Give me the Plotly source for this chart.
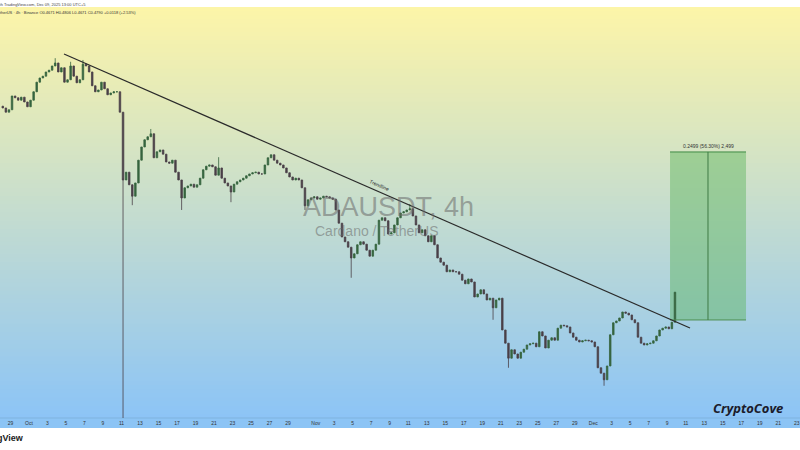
import plotly.graph_objects as go
import pandas as pd

# ---------------- data ----------------
start_time = "2025-09-28 04:00"      # centre of first 8h candle
period_hours = 8
first_open = 0.823
closes = [
    0.820, 0.813, 0.817, 0.840, 0.837, 0.833, 0.838, 0.830, 0.822, 0.833,
    0.847, 0.863, 0.870, 0.873, 0.880, 0.883, 0.890, 0.895, 0.880, 0.887,
    0.863, 0.867, 0.890, 0.873, 0.862, 0.867, 0.893, 0.890, 0.880, 0.857,
    0.847, 0.850, 0.863, 0.852, 0.842, 0.845, 0.847, 0.847, 0.813, 0.700,
    0.713, 0.692, 0.673, 0.695, 0.733, 0.755, 0.767, 0.772, 0.777, 0.737,
    0.747, 0.750, 0.743, 0.730, 0.728, 0.733, 0.713, 0.700, 0.670, 0.687,
    0.690, 0.693, 0.688, 0.692, 0.703, 0.717, 0.723, 0.725, 0.722, 0.708,
    0.720, 0.703, 0.695, 0.690, 0.680, 0.693, 0.697, 0.700, 0.703, 0.707,
    0.710, 0.712, 0.713, 0.710, 0.710, 0.725, 0.737, 0.742, 0.733, 0.728,
    0.725, 0.720, 0.712, 0.705, 0.700, 0.703, 0.700, 0.687, 0.657, 0.667,
    0.670, 0.672, 0.668, 0.670, 0.673, 0.672, 0.670, 0.668, 0.650, 0.628,
    0.605, 0.597, 0.588, 0.570, 0.577, 0.592, 0.597, 0.593, 0.583, 0.573,
    0.583, 0.593, 0.633, 0.637, 0.632, 0.610, 0.612, 0.625, 0.637, 0.645,
    0.647, 0.650, 0.652, 0.640, 0.625, 0.612, 0.617, 0.607, 0.597, 0.607,
    0.592, 0.570, 0.563, 0.558, 0.547, 0.550, 0.547, 0.547, 0.543, 0.533,
    0.527, 0.535, 0.530, 0.505, 0.510, 0.517, 0.510, 0.500, 0.503, 0.487,
    0.500, 0.503, 0.450, 0.428, 0.403, 0.417, 0.410, 0.403, 0.413, 0.418,
    0.425, 0.427, 0.428, 0.422, 0.447, 0.440, 0.420, 0.433, 0.437, 0.433,
    0.453, 0.458, 0.457, 0.455, 0.445, 0.438, 0.433, 0.430, 0.432, 0.433,
    0.432, 0.430, 0.422, 0.387, 0.378, 0.367, 0.390, 0.442, 0.462, 0.465,
    0.470, 0.480, 0.478, 0.475, 0.467, 0.462, 0.438, 0.428, 0.425, 0.427,
    0.428, 0.432, 0.440, 0.450, 0.453, 0.455, 0.452, 0.463, 0.513,
]
# notable wicks (candle index -> price)
high_idx = [17, 22, 26, 48, 70, 132]
high_val = [0.903, 0.897, 0.900, 0.785, 0.738, 0.660]
low_idx = [39, 42, 58, 74, 98, 113, 159, 164, 195]
low_val = [0.280, 0.658, 0.650, 0.663, 0.650, 0.537, 0.467, 0.387, 0.357]

# trendline drawing
trend_t = ["2025-10-04 18:50", "2025-12-11 11:00"]
trend_p = [0.910, 0.4533]
trend_label = "Trendline"

# long position tool
pos_t = ["2025-12-09 07:10", "2025-12-13 09:40", "2025-12-17 12:20"]
pos_entry = 0.4667
pos_target = 0.7467
pos_label = "0.2499 (56.30%) 2,499"

# axis
x_range = ["2025-09-27 20:46", "2025-12-23 08:24"]
y_range = [0.3033, 0.9833]
tick_dates = ["2025-09-29", "2025-10-01", "2025-10-03", "2025-10-05", "2025-10-07",
              "2025-10-09", "2025-10-11", "2025-10-13", "2025-10-15", "2025-10-17",
              "2025-10-19", "2025-10-21", "2025-10-23", "2025-10-25", "2025-10-27",
              "2025-10-29", "2025-11-01", "2025-11-03", "2025-11-05", "2025-11-07",
              "2025-11-09", "2025-11-11", "2025-11-13", "2025-11-15", "2025-11-17",
              "2025-11-19", "2025-11-21", "2025-11-23", "2025-11-25", "2025-11-27",
              "2025-11-29", "2025-12-01", "2025-12-03", "2025-12-05", "2025-12-07",
              "2025-12-09", "2025-12-11", "2025-12-13", "2025-12-15", "2025-12-17",
              "2025-12-19", "2025-12-21", "2025-12-23"]
tick_text = ["29", "Oct", "3", "5", "7", "9", "11", "13", "15", "17", "19", "21", "23",
             "25", "27", "29", "Nov", "3", "5", "7", "9", "11", "13", "15", "17", "19",
             "21", "23", "25", "27", "29", "Dec", "3", "5", "7", "9", "11", "13", "15",
             "17", "19", "21", "23"]

# ---------------- build OHLC ----------------
times = pd.date_range(start=start_time, periods=len(closes), freq=f"{period_hours}h")
opens = [first_open] + closes[:-1]
highs = [max(o, c) for o, c in zip(opens, closes)]
lows = [min(o, c) for o, c in zip(opens, closes)]
for i, v in zip(high_idx, high_val):
    highs[i] = max(highs[i], v)
for i, v in zip(low_idx, low_val):
    lows[i] = min(lows[i], v)

W, H = 800, 450
M_T, M_B = 10, 32
PH = H - M_T - M_B


def py(pix):  # pixel row -> paper y
    return (H - M_B - pix) / PH


def px(pix):
    return pix / W


fig = go.Figure()
fig.add_trace(go.Candlestick(
    x=times, open=opens, high=highs, low=lows, close=closes,
    increasing=dict(line=dict(color="#36643f", width=0.8), fillcolor="#36643f"),
    decreasing=dict(line=dict(color="#4a4048", width=0.8), fillcolor="#4a4048"),
    whiskerwidth=0, hoverinfo="skip", showlegend=False,
))

shapes = []
# gradient background (yellow -> light blue), nested rects to avoid seams
top_rgb = (253, 245, 168)
bot_rgb = (140, 196, 246)
n = 100
y_top = py(7)
for k in range(n):
    f0 = k / n
    f = (k + 0.5) / n
    r = round(top_rgb[0] + (bot_rgb[0] - top_rgb[0]) * f)
    g = round(top_rgb[1] + (bot_rgb[1] - top_rgb[1]) * f)
    b = round(top_rgb[2] + (bot_rgb[2] - top_rgb[2]) * f)
    shapes.append(dict(type="rect", xref="paper", yref="paper", x0=0, x1=1,
                       y0=0, y1=y_top - y_top * f0,
                       fillcolor=f"rgb({r},{g},{b})", line=dict(width=0), layer="below"))
# time axis band
shapes.append(dict(type="rect", xref="paper", yref="paper", x0=0, x1=1,
                   y0=py(428), y1=py(418), fillcolor="#8cc4f5",
                   line=dict(width=0), layer="below"))
shapes.append(dict(type="line", xref="paper", yref="paper", x0=0, x1=1,
                   y0=py(418), y1=py(418), line=dict(color="#7fb3df", width=1),
                   layer="below"))
# long position box
shapes.append(dict(type="rect", xref="x", yref="y", x0=pos_t[0], x1=pos_t[2],
                   y0=pos_entry, y1=pos_target, fillcolor="rgba(92,180,90,0.45)",
                   line=dict(width=0), layer="below"))
shapes.append(dict(type="line", xref="x", yref="y", x0=pos_t[0], x1=pos_t[2],
                   y0=pos_target, y1=pos_target, line=dict(color="#3f8a45", width=1)))
shapes.append(dict(type="line", xref="x", yref="y", x0=pos_t[0], x1=pos_t[2],
                   y0=pos_entry, y1=pos_entry, line=dict(color="#4f8f55", width=1)))
shapes.append(dict(type="line", xref="x", yref="y", x0=pos_t[1], x1=pos_t[1],
                   y0=pos_entry, y1=pos_target, line=dict(color="#3f7a45", width=1)))
# trendline
shapes.append(dict(type="line", xref="x", yref="y", x0=trend_t[0], x1=trend_t[1],
                   y0=trend_p[0], y1=trend_p[1], line=dict(color="#2a2a2a", width=1.2)))


def note(text, x, y, size, color, family="Liberation Sans", xanchor="center", angle=0):
    return dict(text=text, xref="paper", yref="paper", x=px(x), y=py(y),
                xanchor=xanchor, yanchor="middle", showarrow=False, textangle=angle,
                font=dict(size=size, color=color, family=family))


ann = [
    note("ADAUSDT, 4h", 388, 207, 27, "rgba(105,105,105,0.55)"),
    note("Cardano / TetherUS", 376, 231, 14, "rgba(105,105,105,0.55)"),
    note(trend_label, 379, 185, 5, "#333333", angle=23.6),
    note(pos_label, 708, 146, 5, "#333333"),
    # header texts (left part cut off by the page edge, as in the screenshot)
    note("Published on Binance with TradingView.com, Dec 09, 2025 13:00 UTC+5",
         88, 4, 4, "#444444", xanchor="right"),
    note("Cardano / TetherUS · 4h · Binance O0.4671 H0.4806 L0.4671 C0.4790 +0.0118 (+2.53%)",
         138, 13, 4, "#333333", xanchor="right"),
    note("<b><i>CryptoCove</i></b>", 748, 408, 13, "#1b1b2b", family="Open Sans"),
    note("<b>TradingView</b>", 26, 438, 9, "#222222", xanchor="right"),
]

fig.update_layout(
    width=W, height=H,
    margin=dict(l=0, r=0, t=M_T, b=M_B, autoexpand=False),
    paper_bgcolor="white", plot_bgcolor="rgba(0,0,0,0)",
    shapes=shapes, annotations=ann, showlegend=False,
    xaxis=dict(type="date", range=x_range, rangeslider=dict(visible=False),
               showgrid=False, zeroline=False, tickmode="array",
               tickvals=tick_dates, ticktext=tick_text, ticks="", ticklen=0,
               ticklabelstandoff=1, automargin=False,
               tickfont=dict(size=5, color="#333333", family="Liberation Sans"),
               fixedrange=True),
    yaxis=dict(range=y_range, showgrid=False, zeroline=False, showticklabels=False,
               automargin=False, fixedrange=True),
)

fig.write_html("out.html", config={"displayModeBar": False},
               post_script="document.body.style.margin='0';document.body.style.overflow='hidden';")
